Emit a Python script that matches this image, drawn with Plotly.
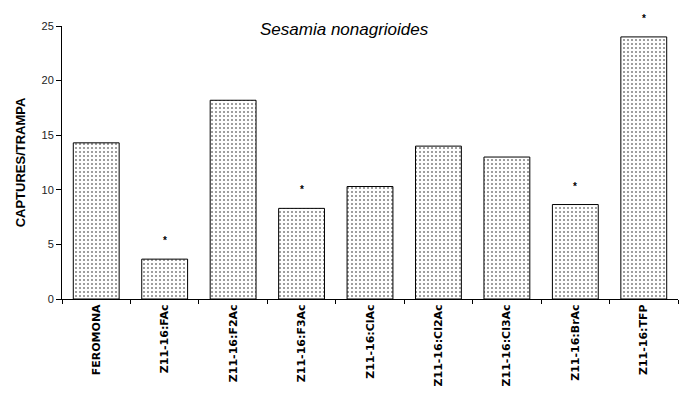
import plotly.graph_objects as go

categories = ["FEROMONA", "Z11-16:FAc", "Z11-16:F2Ac", "Z11-16:F3Ac", "Z11-16:ClAc",
              "Z11-16:Cl2Ac", "Z11-16:Cl3Ac", "Z11-16:BrAc", "Z11-16:TFP"]
values = [14.3, 3.65, 18.2, 8.3, 10.3, 14.0, 13.0, 8.65, 24.0]
significant = [False, True, False, True, False, False, False, True, True]
y_ticks = [0, 5, 10, 15, 20, 25]

fig = go.Figure(go.Bar(
    x=categories, y=values,
    marker=dict(color="white",
                line=dict(color="black", width=1),
                pattern=dict(shape=".", fgcolor="black", bgcolor="white",
                             size=4, solidity=0.2)),
    hoverinfo="skip",
))

for c, v, s in zip(categories, values, significant):
    if s:
        fig.add_annotation(x=c, y=v, text="<b>*</b>", showarrow=False, yanchor="bottom",
                           yshift=11, font=dict(family="Liberation Sans", size=10, color="black"))

fig.update_layout(
    width=686, height=391,
    margin=dict(l=54, r=16, t=12, b=100),
    paper_bgcolor="white", plot_bgcolor="white",
    bargap=0.33,
    showlegend=False,
    title=dict(text="<i>Sesamia nonagrioides</i>", x=0.49, xanchor="center",
               y=0.947, yanchor="middle",
               font=dict(family="Liberation Sans", size=17, color="black")),
    xaxis=dict(type="category", tickson="boundaries", ticks="outside", ticklen=4,
               tickcolor="black", showline=True, linecolor="black", linewidth=1,
               tickangle=-90, showgrid=False,
               tickfont=dict(family="DejaVu Sans", size=11, color="black", weight="bold")),
    yaxis=dict(range=[0, 25], tickvals=y_ticks, ticks="outside", ticklen=5,
               tickcolor="black", showline=True, linecolor="black", linewidth=1,
               showgrid=False, zeroline=False,
               tickfont=dict(family="Liberation Sans", size=11, color="#222"),
               title=dict(text="<b>CAPTURES/TRAMPA</b>", standoff=12,
                          font=dict(family="Liberation Sans", size=13, color="black"))),
)

fig.write_html("out.html")
